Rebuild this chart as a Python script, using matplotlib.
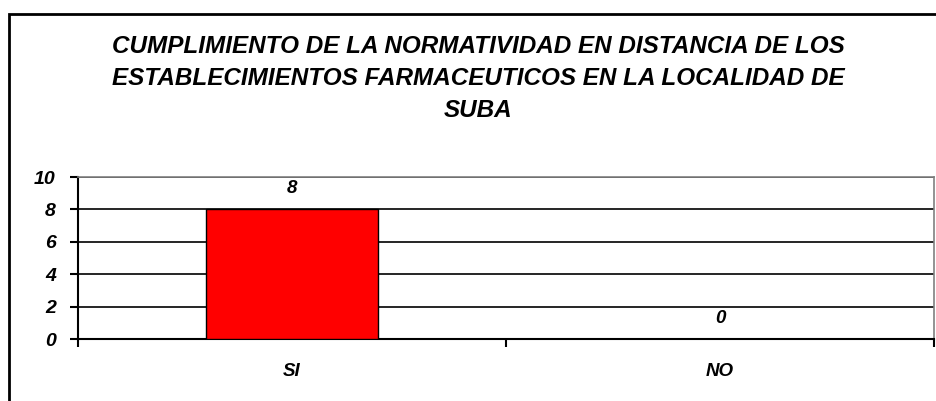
import matplotlib.pyplot as plt
from matplotlib.patches import Rectangle

categories = ['SI', 'NO']
values = [8, 0]
yticks = [0, 2, 4, 6, 8, 10]
title = ('CUMPLIMIENTO DE LA NORMATIVIDAD EN DISTANCIA DE LOS\n'
         'ESTABLECIMIENTOS FARMACEUTICOS EN LA LOCALIDAD DE\n'
         'SUBA')

plt.rcParams['font.family'] = ['Liberation Sans', 'DejaVu Sans']

W, H = 937, 401
fig = plt.figure(figsize=(W / 100, H / 100), dpi=100)

# marco exterior del grafico
fig.patches.append(Rectangle((9 / W, -0.05), 1.2, 1 - 14 / H + 0.05,
                             transform=fig.transFigure, fill=False,
                             edgecolor='black', linewidth=2))

fig.text(478 / W, 1 - 35 / H, title, ha='center', va='top', fontsize=17.5,
         fontweight='bold', fontstyle='italic', linespacing=1.5)

ax = fig.add_axes([78 / W, 1 - 339 / H, (934 - 78) / W, (339 - 177) / H])
x = list(range(len(categories)))
ax.bar(x, values, width=0.4, color='#ff0000', edgecolor='black', linewidth=1, zorder=3)
for xi, v in zip(x, values):
    ax.text(xi, v + 0.75, str(v), ha='center', va='bottom', fontsize=13.5,
            fontweight='bold', fontstyle='italic')

ax.set_xlim(-0.5, len(categories) - 0.5)
ax.set_ylim(0, 10)
ax.set_yticks(yticks)
ax.set_yticklabels([str(t) for t in yticks], fontsize=14, fontweight='bold', fontstyle='italic')
ax.yaxis.grid(True, color='black', linewidth=1.2, zorder=0)
ax.set_axisbelow(True)

ax.set_xticks([i - 0.5 for i in range(len(categories) + 1)])
ax.set_xticklabels([])
ax.set_xticks(x, minor=True)
ax.set_xticklabels(categories, minor=True, fontsize=13.5, fontweight='bold', fontstyle='italic')
ax.tick_params(axis='x', which='minor', length=0, pad=17)
ax.tick_params(axis='x', which='major', length=6, width=1.5, direction='out')
ax.tick_params(axis='y', length=6, width=1.5, pad=10)

for side in ['top', 'right']:
    ax.spines[side].set_color('#808080')
    ax.spines[side].set_linewidth(1.2)
for side in ['left', 'bottom']:
    ax.spines[side].set_color('black')
    ax.spines[side].set_linewidth(1.5)

fig.savefig('out.png', dpi=100)
